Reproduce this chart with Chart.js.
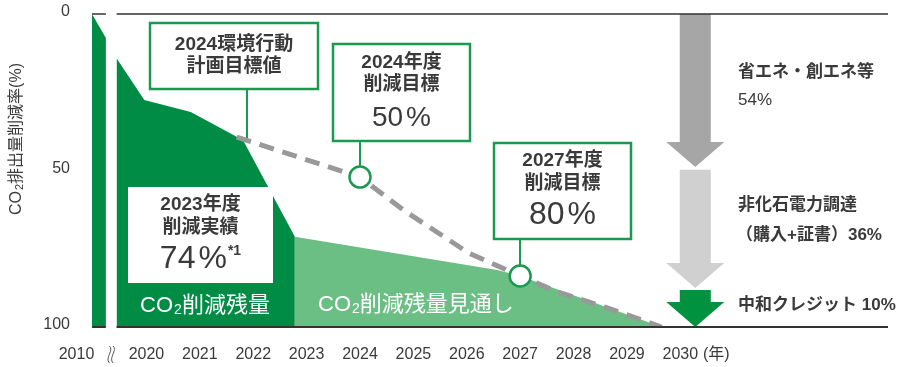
<!DOCTYPE html>
<html lang="ja">
<head>
<meta charset="utf-8">
<title>CO2排出量削減率</title>
<script src="https://cdn.jsdelivr.net/npm/chart.js@4.4.1/dist/chart.umd.min.js"></script>
<style>
  html, body { margin: 0; padding: 0; background: #fff; }
</style>
</head>
<body>
<canvas id="chart" width="901" height="367"></canvas>
<script>
const FONT = '"Liberation Sans", "Noto Sans CJK JP", sans-serif';
const TEXT = '#3a3a3a';
const DARK_GREEN = '#008c45';
const LIGHT_GREEN = '#6cbf84';
const LINE_GREEN = '#1a9a50';

// x values are fiscal years; the 2010 column sits just left of the axis break
const yearTicks = [2020, 2021, 2022, 2023, 2024, 2025, 2026, 2027, 2028, 2029, 2030];
const yTicks = [0, 50, 100];
const baseYearLabel = '2010';
const baseYearLabelAt = 2018.69;

const baseYearX = [2018.98, 2019.24];
const baseYearY = [0, 7.7];

// actual reduction (dark green)
const actualX = [2019.44, 2019.96, 2020.83, 2021.81, 2022.78];
const actualY = [14.1, 27.5, 31.3, 40.3, 71.2];

// outlook (light green)
const outlookX = [2022.78, 2026.57, 2027, 2029.65];
const outlookY = [71.2, 81.8, 83.7, 100];

// target path (dashed)
const targetX = [2021.69, 2024, 2024.81, 2026.04, 2027, 2027.7, 2028.63, 2029.65];
const targetY = [39.3, 52.1, 62.6, 76.4, 83.7, 88.8, 93.9, 100];

const milestoneX = [2024, 2027];
const milestoneY = [52.1, 83.7];

// 2030 breakdown arrows, as ranges on the reduction axis
const breakdownFrom = [0, 49.8, 88.2];
const breakdownTo = [48.9, 87.5, 100];
const breakdownAt = 2030.28;

const pts = (xs, ys) => xs.map((x, i) => ({ x, y: ys[i] }));

function drawParts(ctx, parts, x, y, align) {
  // parts: [text, font, dy, gapBefore]
  const widths = parts.map(p => { ctx.font = p[1]; return ctx.measureText(p[0]).width + (p[3] || 0); });
  const total = widths.reduce((a, b) => a + b, 0);
  let cx = align === 'left' ? x : x - total / 2;
  ctx.textAlign = 'left';
  ctx.textBaseline = 'middle';
  parts.forEach((p, i) => {
    ctx.font = p[1];
    ctx.fillText(p[0], cx + (p[3] || 0), y + (p[2] || 0));
    cx += widths[i];
  });
}

function arrow(ctx, cx, top, bottom, color) {
  const sw = 15.5, hw = 29, hh = 25;
  ctx.fillStyle = color;
  ctx.beginPath();
  ctx.moveTo(cx - sw, top);
  ctx.lineTo(cx + sw, top);
  ctx.lineTo(cx + sw, bottom - hh);
  ctx.lineTo(cx + hw, bottom - hh);
  ctx.lineTo(cx, bottom);
  ctx.lineTo(cx - hw, bottom - hh);
  ctx.lineTo(cx - sw, bottom - hh);
  ctx.closePath();
  ctx.fill();
}

const B = 'bold 19px ' + FONT;
const callouts = [
  { x: 150, y: 23, w: 168, h: 66, border: true, cx: 234,
    rows: [[[['2024環境行動', B]], 45], [[['計画目標値', B]], 67]] },
  { x: 333, y: 44, w: 137, h: 97, border: true, cx: 401.5,
    rows: [[[['2024年度', B]], 63], [[['削減目標', B]], 85],
           [[['50', '28px ' + FONT], ['%', '28px ' + FONT, 0, 3]], 118]] },
  { x: 494, y: 143, w: 137, h: 96, border: true, cx: 562.5,
    rows: [[[['2027年度', B]], 161], [[['削減目標', B]], 184],
           [[['80', '32px ' + FONT], ['%', '32px ' + FONT, 0, 3]], 215]] },
  { x: 128, y: 187, w: 145, h: 96, border: false, cx: 200.5,
    rows: [[[['2023年度', B]], 205], [[['削減実績', B]], 228],
           [[['74', '32px ' + FONT], ['%', '32px ' + FONT, 0, 3], ['*1', 'bold 14px ' + FONT, -8, 1]], 259]] }
];

const decor = {
  id: 'decor',
  beforeDatasetsDraw(chart) {
    const { ctx, scales: { x, y } } = chart;
    ctx.save();
    ctx.strokeStyle = LINE_GREEN;
    ctx.lineWidth = 2;
    ctx.beginPath();
    ctx.moveTo(247, 89); ctx.lineTo(247, 138);
    milestoneX.forEach((v, i) => {
      const px = Math.round(x.getPixelForValue(v));
      const box = callouts[i + 1];
      ctx.moveTo(px, box.y + box.h);
      ctx.lineTo(px, y.getPixelForValue(milestoneY[i]));
    });
    ctx.stroke();
    ctx.restore();
  },
  afterDatasetsDraw(chart) {
    const { ctx, chartArea: a, scales: { x, y } } = chart;
    ctx.save();

    // breakdown arrows
    const arrowColors = ['#a6a6a6', '#d0d0d0', '#00923f'];
    const ax = x.getPixelForValue(breakdownAt);
    breakdownFrom.forEach((v, i) => {
      arrow(ctx, ax, y.getPixelForValue(v), y.getPixelForValue(breakdownTo[i]), arrowColors[i]);
    });

    // frame lines with axis break
    const gapL = x.getPixelForValue(baseYearX[1]), gapR = x.getPixelForValue(actualX[0]);
    ctx.strokeStyle = '#333';
    ctx.lineWidth = 1.5;
    ctx.beginPath();
    ctx.moveTo(a.left, a.top); ctx.lineTo(gapL, a.top);
    ctx.moveTo(gapR, a.top); ctx.lineTo(a.right, a.top);
    ctx.stroke();
    ctx.lineWidth = 2;
    ctx.beginPath();
    ctx.moveTo(a.left, a.bottom); ctx.lineTo(gapL, a.bottom);
    ctx.moveTo(gapR, a.bottom); ctx.lineTo(a.right, a.bottom);
    ctx.stroke();

    // break mark
    const bx = (gapL + gapR) / 2;
    ctx.strokeStyle = '#555';
    ctx.lineWidth = 1;
    [-1.8, 1.8].forEach(d => {
      ctx.beginPath();
      ctx.moveTo(bx + d, 346);
      ctx.bezierCurveTo(bx + d + 5, 350, bx + d - 5, 358, bx + d, 363);
      ctx.stroke();
    });

    // callout boxes
    callouts.forEach(c => {
      ctx.fillStyle = '#fff';
      ctx.fillRect(c.x, c.y, c.w, c.h);
      if (c.border) {
        ctx.strokeStyle = LINE_GREEN;
        ctx.lineWidth = 2.5;
        ctx.strokeRect(c.x, c.y, c.w, c.h);
      }
      ctx.fillStyle = TEXT;
      c.rows.forEach(r => drawParts(ctx, r[0], c.cx, r[1]));
    });

    // labels inside the areas
    ctx.fillStyle = '#fff';
    const W = '22px ' + FONT, S = '14px ' + FONT;
    drawParts(ctx, [['CO', W], ['2', S, 4, 1], ['削減残量', W]], 205, 306);
    drawParts(ctx, [['CO', W], ['2', S, 4, 1], ['削減残量見通し', W]], 318, 305, 'left');

    // breakdown labels
    ctx.fillStyle = TEXT;
    const RB = 'bold 17px ' + FONT, RR = '17px ' + FONT;
    drawParts(ctx, [['省エネ・創エネ等', RB]], 738, 72, 'left');
    drawParts(ctx, [['54%', RR]], 738, 100, 'left');
    drawParts(ctx, [['非化石電力調達', RB]], 738, 205, 'left');
    drawParts(ctx, [['（購入+証書）36%', RB]], 736, 235, 'left');
    drawParts(ctx, [['中和クレジット 10%', RB]], 738, 305, 'left');

    // extra x labels
    const XF = '16px ' + FONT;
    drawParts(ctx, [[baseYearLabel, XF]], x.getPixelForValue(baseYearLabelAt), 355);
    drawParts(ctx, [['(年)', XF]], 703, 355, 'left');

    // y axis title (rotated)
    ctx.translate(17, 139);
    ctx.rotate(-Math.PI / 2);
    const TF = '16px ' + FONT;
    drawParts(ctx, [['CO', TF], ['2', '11px ' + FONT, 3, 1], ['排出量削減率(%)', TF]], 0, 0);
    ctx.restore();
  }
};

new Chart(document.getElementById('chart'), {
  type: 'line',
  data: {
    datasets: [
      {
        data: pts(milestoneX, milestoneY),
        showLine: false,
        pointRadius: 10.5,
        pointBackgroundColor: '#fff',
        pointBorderColor: LINE_GREEN,
        pointBorderWidth: 2.5
      },
      {
        data: pts(targetX, targetY),
        borderColor: '#999999',
        borderWidth: 5,
        borderDash: [15, 9],
        borderCapStyle: 'butt',
        tension: 0,
        pointRadius: 0,
        fill: false
      },
      {
        data: pts(actualX, actualY),
        borderWidth: 0,
        borderColor: 'transparent',
        backgroundColor: DARK_GREEN,
        pointRadius: 0,
        fill: { value: 100 }
      },
      {
        data: pts(outlookX, outlookY),
        borderWidth: 0,
        borderColor: 'transparent',
        backgroundColor: LIGHT_GREEN,
        pointRadius: 0,
        fill: { value: 100 }
      },
      {
        data: pts(baseYearX, baseYearY),
        borderWidth: 0,
        borderColor: 'transparent',
        backgroundColor: DARK_GREEN,
        pointRadius: 0,
        fill: { value: 100 }
      }
    ]
  },
  options: {
    responsive: false,
    animation: false,
    layout: { padding: { top: 14, right: 4, left: 0, bottom: 0 } },
    plugins: {
      legend: { display: false },
      tooltip: { enabled: false }
    },
    scales: {
      x: {
        type: 'linear',
        min: 2018.98,
        max: 2033.89,
        afterBuildTicks: s => { s.ticks = yearTicks.map(v => ({ value: v })); },
        afterFit: s => { s.height = 40; s.paddingLeft = 0; s.paddingRight = 0; },
        ticks: {
          callback: v => String(v),
          font: { size: 16, family: FONT },
          color: TEXT,
          padding: 18,
          maxRotation: 0,
          autoSkip: false
        },
        grid: { display: false, drawTicks: false },
        border: { display: false }
      },
      y: {
        reverse: true,
        min: 0,
        max: 100,
        afterBuildTicks: s => { s.ticks = yTicks.map(v => ({ value: v })); },
        afterFit: s => { s.width = 92; s.paddingTop = 0; s.paddingBottom = 0; },
        ticks: {
          font: { size: 16, family: FONT },
          color: TEXT,
          padding: 22,
          labelOffset: -2
        },
        grid: { display: false, drawTicks: false },
        border: { display: false }
      }
    }
  },
  plugins: [decor]
});
</script>
</body>
</html>
